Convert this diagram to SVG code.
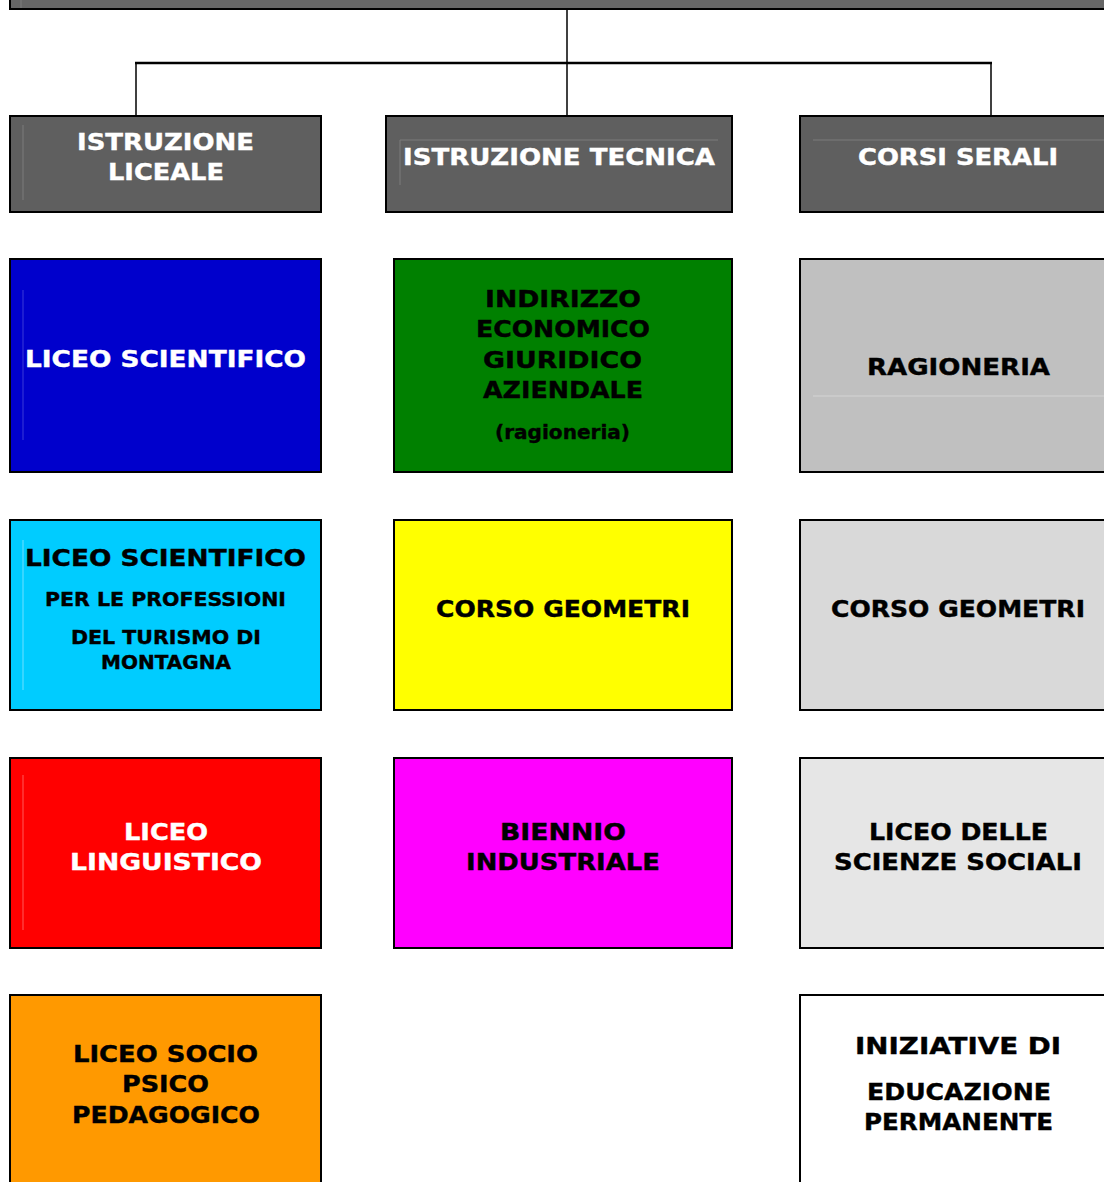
<svg xmlns="http://www.w3.org/2000/svg" width="1104" height="1182" viewBox="0 0 1104 1182">
<style>
.box{stroke:#000;stroke-width:2}
.t{font-family:"DejaVu Sans","Verdana",sans-serif;font-weight:bold;font-size:23px;text-anchor:middle;stroke-width:0.4}
.s{font-size:19px}
.w{fill:#fff;stroke:#fff}
.k{fill:#000;stroke:#000}
.faint{stroke:#7c7c7c;stroke-width:1;fill:none}
.faint2{stroke:#d4d4d4;stroke-width:1;fill:none}
.conn{stroke:#000;fill:none}
</style>
<rect x="0" y="0" width="1104" height="1182" fill="#fff"/>
<g id="top">
<rect class="box" x="10" y="-20" width="1110" height="29" fill="#666"/>
<line class="faint" x1="21" y1="0" x2="21" y2="8"/>
</g>
<g id="connectors">
<line class="conn" stroke-width="1.5" x1="567" y1="9" x2="567" y2="63"/>
<line class="conn" stroke-width="2.5" x1="135" y1="63" x2="992" y2="63"/>
<line class="conn" stroke-width="1.5" x1="136" y1="63" x2="136" y2="115"/>
<line class="conn" stroke-width="1.5" x1="567" y1="63" x2="567" y2="115"/>
<line class="conn" stroke-width="1.5" x1="991" y1="63" x2="991" y2="115"/>
</g>
<g id="h1">
<rect class="box" x="10" y="116" width="311" height="96" fill="#5f5f5f"/>
<line class="faint" x1="23" y1="125" x2="23" y2="200"/>
<text class="t w" x="165.5" y="150" textLength="177" lengthAdjust="spacingAndGlyphs">ISTRUZIONE</text>
<text class="t w" x="166" y="180" textLength="116" lengthAdjust="spacingAndGlyphs">LICEALE</text>
</g>
<g id="h2">
<rect class="box" x="386" y="116" width="346" height="96" fill="#5f5f5f"/>
<polyline class="faint" points="400,185 400,140 718,140"/>
<text class="t w" x="559" y="165" textLength="312" lengthAdjust="spacingAndGlyphs">ISTRUZIONE TECNICA</text>
</g>
<g id="h3">
<rect class="box" x="800" y="116" width="320" height="96" fill="#5f5f5f"/>
<line class="faint" x1="813" y1="140" x2="1104" y2="140"/>
<text class="t w" x="958" y="165" textLength="200" lengthAdjust="spacingAndGlyphs">CORSI SERALI</text>
</g>
<g id="r1c1">
<rect class="box" x="10" y="259" width="311" height="213" fill="#0000CC"/>
<line x1="23" y1="290" x2="23" y2="440" stroke="#3a3ad8" stroke-width="1"/>
<text class="t w" x="165.5" y="367" textLength="281" lengthAdjust="spacingAndGlyphs">LICEO SCIENTIFICO</text>
</g>
<g id="r1c2">
<rect class="box" x="394" y="259" width="338" height="213" fill="#008000"/>
<text class="t k" x="563" y="307" textLength="156" lengthAdjust="spacingAndGlyphs">INDIRIZZO</text>
<text class="t k" x="563" y="337" textLength="174" lengthAdjust="spacingAndGlyphs">ECONOMICO</text>
<text class="t k" x="562.5" y="368" textLength="159" lengthAdjust="spacingAndGlyphs">GIURIDICO</text>
<text class="t k" x="563" y="398" textLength="160" lengthAdjust="spacingAndGlyphs">AZIENDALE</text>
<text class="t k s" x="562.5" y="439" textLength="135" lengthAdjust="spacingAndGlyphs">(ragioneria)</text>
</g>
<g id="r1c3">
<rect class="box" x="800" y="259" width="320" height="213" fill="#C0C0C0"/>
<line class="faint2" x1="813" y1="396" x2="1104" y2="396"/>
<text class="t k" x="958.5" y="375" textLength="183" lengthAdjust="spacingAndGlyphs">RAGIONERIA</text>
</g>
<g id="r2c1">
<rect class="box" x="10" y="520" width="311" height="190" fill="#00CCFF"/>
<line x1="23" y1="540" x2="23" y2="690" stroke="#6fe0ff" stroke-width="1"/>
<text class="t k" x="165.5" y="566" textLength="281" lengthAdjust="spacingAndGlyphs">LICEO SCIENTIFICO</text>
<text class="t k s" x="165.5" y="606" textLength="241" lengthAdjust="spacingAndGlyphs">PER LE PROFESSIONI</text>
<text class="t k s" x="166" y="644" textLength="190" lengthAdjust="spacingAndGlyphs">DEL TURISMO DI</text>
<text class="t k s" x="166" y="669" textLength="130" lengthAdjust="spacingAndGlyphs">MONTAGNA</text>
</g>
<g id="r2c2">
<rect class="box" x="394" y="520" width="338" height="190" fill="#FFFF00"/>
<text class="t k" x="563" y="617" textLength="254" lengthAdjust="spacingAndGlyphs">CORSO GEOMETRI</text>
</g>
<g id="r2c3">
<rect class="box" x="800" y="520" width="320" height="190" fill="#D9D9D9"/>
<text class="t k" x="958" y="617" textLength="254" lengthAdjust="spacingAndGlyphs">CORSO GEOMETRI</text>
</g>
<g id="r3c1">
<rect class="box" x="10" y="758" width="311" height="190" fill="#FF0000"/>
<line x1="23" y1="775" x2="23" y2="930" stroke="#ff5a5a" stroke-width="1"/>
<text class="t w" x="166" y="840" textLength="84" lengthAdjust="spacingAndGlyphs">LICEO</text>
<text class="t w" x="166" y="870" textLength="192" lengthAdjust="spacingAndGlyphs">LINGUISTICO</text>
</g>
<g id="r3c2">
<rect class="box" x="394" y="758" width="338" height="190" fill="#FF00FF"/>
<text class="t k" x="563" y="840" textLength="126" lengthAdjust="spacingAndGlyphs">BIENNIO</text>
<text class="t k" x="563" y="870" textLength="194" lengthAdjust="spacingAndGlyphs">INDUSTRIALE</text>
</g>
<g id="r3c3">
<rect class="box" x="800" y="758" width="320" height="190" fill="#E6E6E6"/>
<text class="t k" x="958.5" y="840" textLength="179" lengthAdjust="spacingAndGlyphs">LICEO DELLE</text>
<text class="t k" x="958" y="870" textLength="248" lengthAdjust="spacingAndGlyphs">SCIENZE SOCIALI</text>
</g>
<g id="r4c1">
<rect class="box" x="10" y="995" width="311" height="200" fill="#FF9900"/>
<text class="t k" x="165.5" y="1062" textLength="185" lengthAdjust="spacingAndGlyphs">LICEO SOCIO</text>
<text class="t k" x="165.5" y="1092" textLength="87" lengthAdjust="spacingAndGlyphs">PSICO</text>
<text class="t k" x="166" y="1123" textLength="188" lengthAdjust="spacingAndGlyphs">PEDAGOGICO</text>
</g>
<g id="r4c3">
<rect class="box" x="800" y="995" width="320" height="200" fill="#FFFFFF"/>
<text class="t k" x="958" y="1054" textLength="206" lengthAdjust="spacingAndGlyphs">INIZIATIVE DI</text>
<text class="t k" x="959" y="1100" textLength="184" lengthAdjust="spacingAndGlyphs">EDUCAZIONE</text>
<text class="t k" x="958.5" y="1130" textLength="189" lengthAdjust="spacingAndGlyphs">PERMANENTE</text>
</g>
</svg>
